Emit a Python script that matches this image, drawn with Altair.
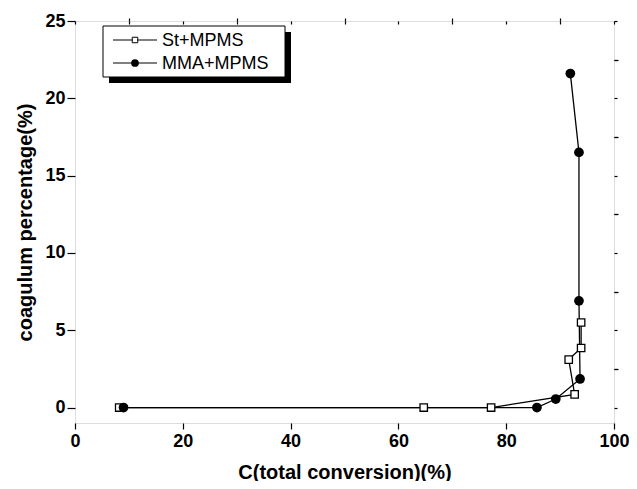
import altair as alt
import pandas as pd

# Data
st_x = [8.2, 64.7, 77.2, 92.7, 91.6, 93.9, 93.9]
st_y = [0.0, 0.0, 0.0, 0.85, 3.1, 3.85, 5.5]
mma_x = [9.0, 85.7, 89.2, 93.7, 93.5, 93.5, 91.9]
mma_y = [0.0, 0.0, 0.55, 1.85, 6.9, 16.5, 21.6]
series_names = ["St+MPMS", "MMA+MPMS"]
x_major = [0, 20, 40, 60, 80, 100]
x_minor = [10, 30, 50, 70, 90]
y_major = [0, 5, 10, 15, 20, 25]
y_minor = [2.5, 7.5, 12.5, 17.5, 22.5]

rows = []
for i, (x, y) in enumerate(zip(st_x, st_y)):
    rows.append({"x": x, "y": y, "s": series_names[0], "o": i})
for i, (x, y) in enumerate(zip(mma_x, mma_y)):
    rows.append({"x": x, "y": y, "s": series_names[1], "o": i})
df = pd.DataFrame(rows)

FONT = "Liberation Sans"
W, H = 539, 402
xs = alt.Scale(domain=[0, 100], nice=False, zero=False)
ys = alt.Scale(domain=[-1, 25], nice=False, zero=False)

base = alt.Chart(df)

lines = base.mark_line(color="black", strokeWidth=1.3).encode(
    x=alt.X("x:Q", scale=xs, axis=alt.Axis(
        values=x_major, title="C(total conversion)(%)", domain=False, grid=False,
        tickSize=6, tickColor="black", tickWidth=1.2, labelFont=FONT, labelFontSize=18,
        labelFontWeight="bold", labelColor="black", labelPadding=3,
        titleFont=FONT, titleFontSize=20, titleFontWeight="bold", titleColor="black",
        titlePadding=12, labelFlush=False)),
    y=alt.Y("y:Q", scale=ys, axis=alt.Axis(
        values=y_major, title="coagulum percentage(%)", domain=False, grid=False,
        tickSize=8, tickColor="black", tickWidth=1.2, labelFont=FONT, labelFontSize=18,
        labelFontWeight="bold", labelColor="black", labelPadding=2,
        titleFont=FONT, titleFontSize=20, titleFontWeight="bold", titleColor="black",
        titlePadding=9, labelFlush=False)),
    detail="s:N",
    order="o:Q",
)

sq = base.transform_filter(alt.datum.s == series_names[0]).mark_point(
    shape="square", size=55, filled=True, fill="white", stroke="black", strokeWidth=1.3, opacity=1
).encode(
    x=alt.X("x:Q", scale=xs, axis=alt.Axis(values=x_minor, labels=False, title=None, domain=False,
                                           grid=False, tickSize=3, tickColor="black", tickWidth=1.2)),
    y=alt.Y("y:Q", scale=ys, axis=alt.Axis(values=y_minor, labels=False, title=None, domain=False,
                                           grid=False, tickSize=4, tickColor="black", tickWidth=1.2)),
)

ci = base.transform_filter(alt.datum.s == series_names[1]).mark_circle(
    size=95, color="black", opacity=1
).encode(
    x=alt.X("x:Q", scale=xs, axis=alt.Axis(orient="top", values=x_major + x_minor, labels=False,
                                           title=None, domain=False, grid=False, tickSize=3,
                                           offset=-3, tickColor="black", tickWidth=1.2)),
    y=alt.Y("y:Q", scale=ys, axis=alt.Axis(orient="right", values=y_major + y_minor, labels=False,
                                           title=None, domain=False, grid=False, tickSize=3,
                                           tickColor="black", tickWidth=1.2)),
)

one = pd.DataFrame({"k": [0]})
lb = alt.Chart(one)
shadow = lb.mark_rect(color="black").encode(
    x=alt.value(34), x2=alt.value(216), y=alt.value(11), y2=alt.value(62))
box = lb.mark_rect(fill="white", stroke="black", strokeWidth=1).encode(
    x=alt.value(28), x2=alt.value(210), y=alt.value(5), y2=alt.value(56))

leg_y = [19, 42]
leg_layers = []
for i, name in enumerate(series_names):
    yy = leg_y[i]
    leg_layers.append(lb.mark_rule(color="black", strokeWidth=1.2).encode(
        x=alt.value(38), x2=alt.value(82), y=alt.value(yy)))
    if i == 0:
        leg_layers.append(lb.mark_point(shape="square", size=30, filled=True, fill="white",
                                        stroke="black", strokeWidth=1, opacity=1).encode(
            x=alt.value(60), y=alt.value(yy)))
    else:
        leg_layers.append(lb.mark_circle(size=60, color="black", opacity=1).encode(
            x=alt.value(60), y=alt.value(yy)))
    leg_layers.append(lb.mark_text(align="left", baseline="middle", font=FONT, fontSize=18,
                                   color="black").encode(
        x=alt.value(87), y=alt.value(yy + 1), text=alt.value(name)))

chart = alt.layer(lines, sq, ci, shadow, box, *leg_layers).resolve_axis(
    x="independent", y="independent"
).properties(
    width=W, height=H,
    autosize=alt.AutoSizeParams(type="none"),
    padding={"left": 67, "top": 13, "right": 15, "bottom": 58},
).configure_view(stroke="black", strokeWidth=1.3).configure(background="white")

chart.save("out.html", embed_options={"renderer": "svg", "actions": False})
